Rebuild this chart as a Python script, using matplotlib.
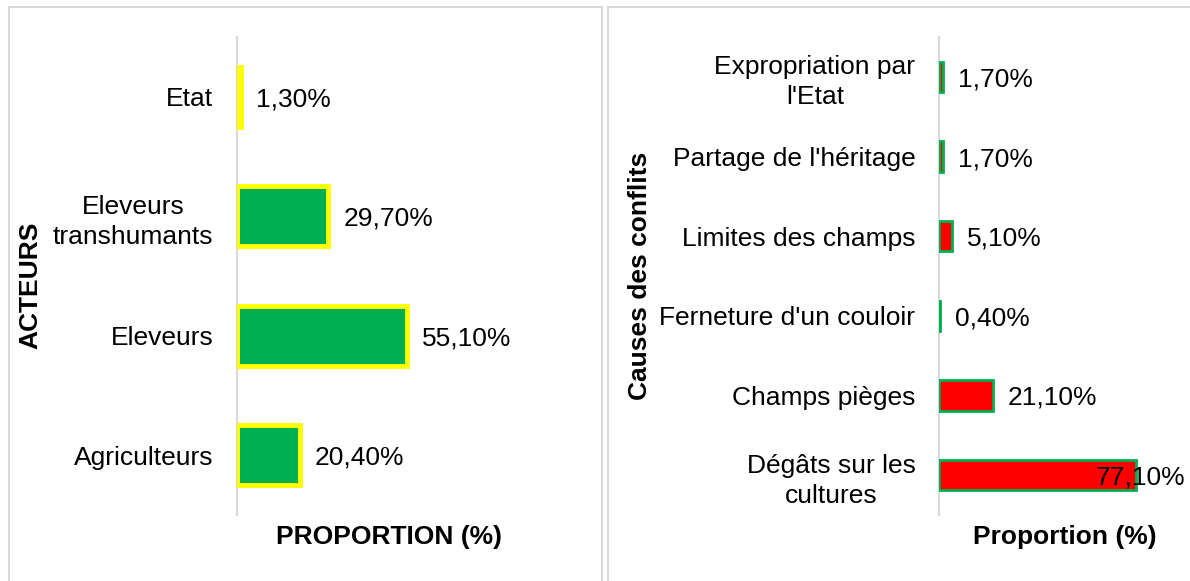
import matplotlib
matplotlib.use('Agg')
import matplotlib.pyplot as plt
import matplotlib.patheffects as pe
from matplotlib.patches import Rectangle

# ----------------------------------------------------------------------
# DATA
# ----------------------------------------------------------------------
acteurs = ['Etat', 'Eleveurs\ntranshumants', 'Eleveurs', 'Agriculteurs']
acteurs_pct = [1.3, 29.7, 55.1, 20.4]

causes = ["Expropriation par\nl'Etat", "Partage de l'héritage", 'Limites des champs',
          "Ferneture d'un couloir", 'Champs pièges', 'Dégâts sur les\ncultures']
causes_pct = [1.7, 1.7, 5.1, 0.4, 21.1, 77.1]

W, H = 1190, 581
plt.rcParams['font.family'] = ['Liberation Sans', 'DejaVu Sans']
FS = 19
GRIS = '#d9d9d9'
VERT = '#00b050'
JAUNE = '#ffff00'
ROUGE = '#ff0000'

fig = plt.figure(figsize=(W / 100, H / 100), dpi=100)
fig.patch.set_facecolor('white')


def px_box(x0, y0, x1, y1):
    """pixel box (top-left origin) -> figure fraction [l, b, w, h]"""
    return [x0 / W, 1 - y1 / H, (x1 - x0) / W, (y1 - y0) / H]


# panel frames
fig.patches.append(Rectangle((8.5 / W, -0.1), (602 - 8.5) / W, 1.1 - 6.5 / H,
                             transform=fig.transFigure, fill=False, edgecolor=GRIS, lw=1.5))
fig.patches.append(Rectangle((607.5 / W, -0.1), 0.5, 1.1 - 6.5 / H,
                             transform=fig.transFigure, fill=False, edgecolor=GRIS, lw=1.5))


def style_axes(ax, labels):
    ax.invert_yaxis()
    for s in ['top', 'right', 'bottom']:
        ax.spines[s].set_visible(False)
    ax.spines['left'].set_color(GRIS)
    ax.spines['left'].set_linewidth(1.5)
    ax.set_xticks([])
    ax.set_yticks(range(len(labels)))
    ax.set_yticklabels(labels, fontsize=FS)
    ax.tick_params(axis='y', length=0, pad=17)
    for lbl in ax.get_yticklabels():
        lbl.set_multialignment('center')
        lbl.set_linespacing(1.32)
    ax.patch.set_alpha(0)


# ----------------------------------------------------------------------
# LEFT: ACTEURS
# ----------------------------------------------------------------------
ax1 = fig.add_axes(px_box(237, 37, 560, 515))
ax1.set_xlim(0, 323 / 3.08)
ax1.set_ylim(-0.5, len(acteurs) - 0.5)
bars1 = ax1.barh(range(len(acteurs)), acteurs_pct, height=0.5, color=VERT,
                 edgecolor=JAUNE, linewidth=3.5, zorder=3)
for b in bars1:
    b.set_path_effects([pe.SimplePatchShadow(offset=(2, -2), shadow_rgbFace='gray', alpha=0.35),
                        pe.Normal()])
style_axes(ax1, acteurs)
for i, v in enumerate(acteurs_pct):
    ax1.text(v + 15 / 3.08, i, f'{v:.2f}%'.replace('.', ','), fontsize=FS,
             va='center_baseline', ha='left')

fig.text(30 / W, 1 - 285 / H, 'ACTEURS', rotation=90, fontsize=FS, fontweight='bold',
         ha='center', va='center')
fig.text(389 / W, 1 - 537 / H, 'PROPORTION (%)', fontsize=FS, fontweight='bold',
         ha='center', va='center')

# ----------------------------------------------------------------------
# RIGHT: CAUSES DES CONFLITS
# ----------------------------------------------------------------------
ax2 = fig.add_axes(px_box(939, 37, 1185, 515))
xmax2 = 246 / 2.55
ax2.set_xlim(0, xmax2)
ax2.set_ylim(-0.5, len(causes) - 0.5)
ax2.barh(range(len(causes)), causes_pct, height=0.38, color=ROUGE,
         edgecolor=VERT, linewidth=2, zorder=3)
style_axes(ax2, causes)
for i, v in enumerate(causes_pct):
    txt = f'{v:.2f}%'.replace('.', ',')
    if v > 60:
        # not enough room: the label is pushed back onto the bar
        ax2.text(xmax2, i, txt, fontsize=FS, va='center_baseline', ha='right', zorder=4)
    else:
        ax2.text(v + 15 / 2.55, i, txt, fontsize=FS, va='center_baseline', ha='left')

fig.text(640 / W, 1 - 276 / H, 'Causes des conflits', rotation=90, fontsize=FS,
         fontweight='bold', ha='center', va='center')
fig.text(1065 / W, 1 - 537 / H, 'Proportion (%)', fontsize=FS, fontweight='bold',
         ha='center', va='center')

fig.savefig('out.png', dpi=100)
